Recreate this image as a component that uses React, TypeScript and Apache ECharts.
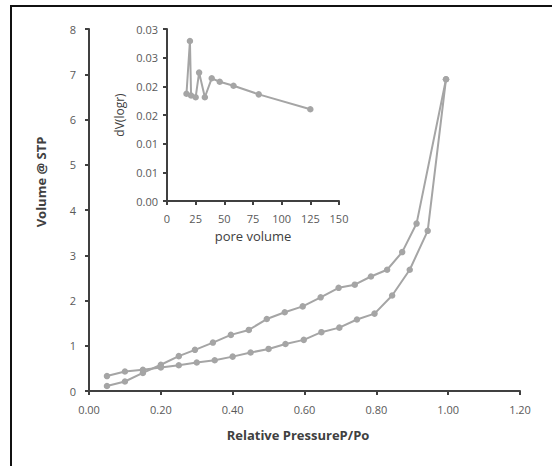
import React, { useEffect, useRef } from "react";
import * as echarts from "echarts";

// Main isotherm: branch A (starts low, becomes the upper branch)
const branchAX = [0.05, 0.10, 0.15, 0.20, 0.25, 0.295, 0.345, 0.395, 0.445, 0.495, 0.545, 0.595, 0.645, 0.695, 0.74, 0.785, 0.83, 0.872, 0.912, 0.994];
const branchAY = [0.11, 0.21, 0.40, 0.58, 0.77, 0.91, 1.07, 1.24, 1.35, 1.59, 1.74, 1.87, 2.07, 2.28, 2.35, 2.53, 2.68, 3.07, 3.70, 6.89];
// Branch B (starts higher, becomes the lower branch)
const branchBX = [0.05, 0.10, 0.15, 0.20, 0.25, 0.30, 0.35, 0.40, 0.45, 0.50, 0.547, 0.598, 0.647, 0.697, 0.746, 0.795, 0.844, 0.893, 0.943, 0.994];
const branchBY = [0.33, 0.43, 0.47, 0.52, 0.57, 0.63, 0.68, 0.76, 0.85, 0.93, 1.04, 1.13, 1.30, 1.40, 1.58, 1.71, 2.11, 2.68, 3.54, 6.89];

// Inset: pore size distribution
const insetX = [17, 20, 21, 25, 28, 33, 39, 46, 58, 80, 125];
const insetY = [0.0187, 0.0279, 0.0184, 0.0181, 0.0224, 0.0181, 0.0214, 0.0208, 0.0201, 0.0186, 0.0160];

const xTitle = "Relative PressureP/Po";
const yTitle = "Volume @ STP";
const insetXTitle = "pore volume";
const insetYTitle = "dV(logr)";

const FONT = "'Open Sans', 'Noto Sans', sans-serif";
const GRAY = "#a5a5a5";
const LABEL = "#595959";
const AXIS = "#404040";

const zip = (xs: number[], ys: number[]) => xs.map((x, i) => [x, ys[i]]);

export default function App() {
  const ref = useRef<HTMLDivElement>(null);
  useEffect(() => {
    if (!ref.current) return;
    const chart = echarts.init(ref.current, undefined, { renderer: "svg" });
    const axisCommon = {
      axisLine: { show: true, lineStyle: { color: AXIS, width: 2 } },
      axisTick: { show: true, inside: false, length: 4, lineStyle: { color: AXIS, width: 2 } },
      splitLine: { show: false },
      axisLabel: { color: LABEL, fontFamily: FONT, fontSize: 11 },
    };
    const lineSeries = (xi: number, yi: number, data: number[][]) => ({
      type: "line",
      xAxisIndex: xi,
      yAxisIndex: yi,
      data,
      symbol: "circle",
      symbolSize: 6.5,
      lineStyle: { color: GRAY, width: 2 },
      itemStyle: { color: GRAY },
      z: 3,
    });
    chart.setOption({
      animation: false,
      backgroundColor: "#fff",
      grid: [
        { left: 89, right: 32, top: 29, bottom: 75 },
        { left: 167, right: 213, top: 29, bottom: 265, show: false },
      ],
      xAxis: [
        {
          ...axisCommon,
          gridIndex: 0,
          type: "value",
          min: 0,
          max: 1.2,
          interval: 0.2,
          axisLabel: { ...axisCommon.axisLabel, margin: 13, formatter: (v: number) => v.toFixed(2) },
        },
        {
          ...axisCommon,
          gridIndex: 1,
          type: "value",
          min: 0,
          max: 150,
          interval: 25,
          name: insetXTitle,
          nameLocation: "middle",
          nameGap: 28,
          nameTextStyle: { color: AXIS, fontFamily: FONT, fontSize: 13 },
          axisLabel: { ...axisCommon.axisLabel, margin: 12 },
        },
      ],
      yAxis: [
        {
          ...axisCommon,
          gridIndex: 0,
          type: "value",
          min: 0,
          max: 8,
          interval: 1,
          axisLabel: { ...axisCommon.axisLabel, margin: 13 },
        },
        {
          ...axisCommon,
          gridIndex: 1,
          type: "value",
          min: 0,
          max: 0.03,
          interval: 0.005,
          name: insetYTitle,
          nameLocation: "middle",
          nameGap: 42,
          nameTextStyle: { color: AXIS, fontFamily: FONT, fontSize: 12 },
          axisLabel: {
            ...axisCommon.axisLabel,
            margin: 9,
            formatter: (v: number) => (Math.round(v * 100 + 1e-9) / 100).toFixed(2),
          },
        },
      ],
      series: [
        lineSeries(0, 0, zip(branchAX, branchAY)),
        lineSeries(0, 0, zip(branchBX, branchBY)),
        lineSeries(1, 1, zip(insetX, insetY)),
      ],
      graphic: [
        {
          type: "rect",
          shape: { x: 11, y: 6, width: 700, height: 600 },
          style: { fill: "none", stroke: "#111", lineWidth: 2 },
          silent: true,
        },
        {
          type: "text",
          x: 298,
          y: 435,
          style: {
            text: xTitle,
            fill: AXIS,
            font: `bold 13px ${FONT}`,
            textAlign: "center",
            textVerticalAlign: "middle",
          },
        },
        {
          type: "text",
          x: 41,
          y: 182,
          rotation: Math.PI / 2,
          style: {
            text: yTitle,
            fill: AXIS,
            font: `bold 13px ${FONT}`,
            textAlign: "center",
            textVerticalAlign: "middle",
          },
        },
      ],
    });
    return () => chart.dispose();
  }, []);
  return <div ref={ref} style={{ width: 552, height: 466, position: "absolute", left: 0, top: 0 }} />;
}
